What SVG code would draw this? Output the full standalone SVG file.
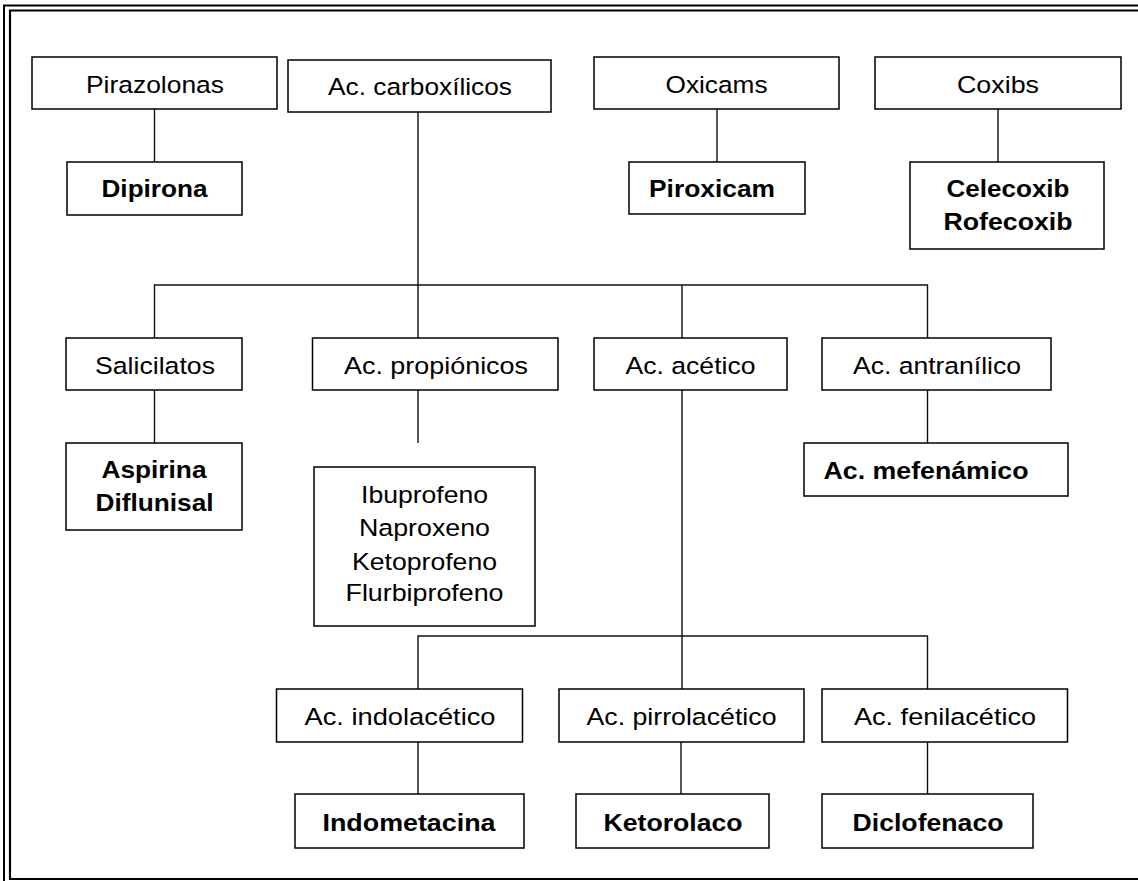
<svg xmlns="http://www.w3.org/2000/svg" width="1138" height="881" viewBox="0 0 1138 881">
<style>
.box{fill:#fff;stroke:#000;stroke-width:1.5}
.ln{fill:none;stroke:#111;stroke-width:1.4}
.bd{fill:none;stroke:#000}
text{font-family:"Liberation Sans",Arial,sans-serif;fill:#000;text-anchor:middle}
.r{font-size:24.5px}
.b{font-size:24.5px;font-weight:bold}
</style>
<rect x="0" y="0" width="1138" height="881" fill="#fff"/>
<g id="border">
<path class="bd" stroke-width="2" d="M4,881 V5.5 H1138"/>
<path class="bd" stroke-width="2.2" d="M1138,10.5 H10 V879 H1138"/>
</g>
<g id="connectors">
<path class="ln" d="M154.5,109 V162"/>
<path class="ln" d="M418,112 V285"/>
<path class="ln" d="M717,109 V162"/>
<path class="ln" d="M998,109 V162"/>
<path class="ln" d="M154.5,338 V285 H927.5 V338"/>
<path class="ln" d="M418,285 V338"/>
<path class="ln" d="M682,285 V338"/>
<path class="ln" d="M154.5,390 V443"/>
<path class="ln" d="M418,390 V443"/>
<path class="ln" d="M682,390 V689"/>
<path class="ln" d="M927.5,390 V443"/>
<path class="ln" d="M418,689 V636 H927.5 V689"/>
<path class="ln" d="M418,742 V794"/>
<path class="ln" d="M681,742 V794"/>
<path class="ln" d="M927.5,742 V794"/>
</g>
<g id="pirazolonas"><rect class="box" x="32" y="57" width="245" height="52"/><text class="r" x="155" y="93" textLength="138" lengthAdjust="spacingAndGlyphs">Pirazolonas</text></g>
<g id="dipirona"><rect class="box" x="67" y="162" width="175" height="53"/><text class="b" x="154.5" y="197" textLength="106" lengthAdjust="spacingAndGlyphs">Dipirona</text></g>
<g id="carboxilicos"><rect class="box" x="288" y="60" width="263" height="52"/><text class="r" x="420" y="95" textLength="184" lengthAdjust="spacingAndGlyphs">Ac. carboxílicos</text></g>
<g id="oxicams"><rect class="box" x="594" y="57" width="245" height="52"/><text class="r" x="716.5" y="93" textLength="102" lengthAdjust="spacingAndGlyphs">Oxicams</text></g>
<g id="piroxicam"><rect class="box" x="629" y="162" width="176" height="52"/><text class="b" x="712" y="197" textLength="126" lengthAdjust="spacingAndGlyphs">Piroxicam</text></g>
<g id="coxibs"><rect class="box" x="875" y="57" width="246" height="52"/><text class="r" x="998" y="93" textLength="82" lengthAdjust="spacingAndGlyphs">Coxibs</text></g>
<g id="celecoxib"><rect class="box" x="910" y="162" width="194" height="87"/><text class="b" x="1008" y="197" textLength="123" lengthAdjust="spacingAndGlyphs">Celecoxib</text><text class="b" x="1008" y="230" textLength="129" lengthAdjust="spacingAndGlyphs">Rofecoxib</text></g>
<g id="salicilatos"><rect class="box" x="66" y="338" width="176" height="52"/><text class="r" x="155" y="374" textLength="120" lengthAdjust="spacingAndGlyphs">Salicilatos</text></g>
<g id="aspirina"><rect class="box" x="66" y="443" width="176" height="87"/><text class="b" x="154" y="478" textLength="105" lengthAdjust="spacingAndGlyphs">Aspirina</text><text class="b" x="154.5" y="510.5" textLength="118" lengthAdjust="spacingAndGlyphs">Diflunisal</text></g>
<g id="propionicos"><rect class="box" x="312.5" y="338" width="245.5" height="52"/><text class="r" x="436" y="374" textLength="184" lengthAdjust="spacingAndGlyphs">Ac. propiónicos</text></g>
<g id="ibuprofeno"><rect class="box" x="314" y="467" width="221" height="159"/><text class="r" x="424.5" y="503" textLength="127" lengthAdjust="spacingAndGlyphs">Ibuprofeno</text><text class="r" x="424.5" y="536" textLength="131" lengthAdjust="spacingAndGlyphs">Naproxeno</text><text class="r" x="424.5" y="569.5" textLength="145" lengthAdjust="spacingAndGlyphs">Ketoprofeno</text><text class="r" x="424.5" y="601" textLength="158" lengthAdjust="spacingAndGlyphs">Flurbiprofeno</text></g>
<g id="acetico"><rect class="box" x="594" y="338" width="193" height="52"/><text class="r" x="690.5" y="374" textLength="130" lengthAdjust="spacingAndGlyphs">Ac. acético</text></g>
<g id="antranilico"><rect class="box" x="822" y="338" width="229" height="52"/><text class="r" x="937" y="374" textLength="168" lengthAdjust="spacingAndGlyphs">Ac. antranílico</text></g>
<g id="mefenamico"><rect class="box" x="804" y="443" width="264" height="53"/><text class="b" x="926" y="478.5" textLength="205" lengthAdjust="spacingAndGlyphs">Ac. mefenámico</text></g>
<g id="indolacetico"><rect class="box" x="276.5" y="689" width="246" height="53"/><text class="r" x="400" y="725" textLength="191" lengthAdjust="spacingAndGlyphs">Ac. indolacético</text></g>
<g id="pirrolacetico"><rect class="box" x="559" y="689" width="245" height="53"/><text class="r" x="681.5" y="725" textLength="190" lengthAdjust="spacingAndGlyphs">Ac. pirrolacético</text></g>
<g id="fenilacetico"><rect class="box" x="822" y="689" width="245.5" height="53"/><text class="r" x="945" y="725" textLength="182" lengthAdjust="spacingAndGlyphs">Ac. fenilacético</text></g>
<g id="indometacina"><rect class="box" x="295" y="794" width="229" height="54"/><text class="b" x="409" y="830.5" textLength="173" lengthAdjust="spacingAndGlyphs">Indometacina</text></g>
<g id="ketorolaco"><rect class="box" x="576" y="794" width="193" height="54"/><text class="b" x="673" y="830.5" textLength="139" lengthAdjust="spacingAndGlyphs">Ketorolaco</text></g>
<g id="diclofenaco"><rect class="box" x="822" y="794" width="211" height="54"/><text class="b" x="928" y="830.5" textLength="151" lengthAdjust="spacingAndGlyphs">Diclofenaco</text></g>
</svg>
